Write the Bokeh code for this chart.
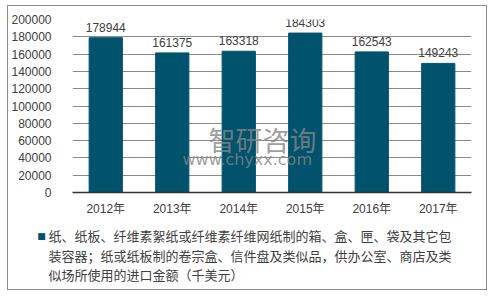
from bokeh.plotting import figure
from bokeh.layouts import column
from bokeh.models import ColumnDataSource, Label, LabelSet, Range1d, FixedTicker, NumeralTickFormatter
from bokeh.embed import file_html
from bokeh.resources import INLINE
from bokeh.core.properties import value

# Import value of paper/paperboard containers, by year (thousand USD)
years = ["2012年", "2013年", "2014年", "2015年", "2016年", "2017年"]
amounts = [178944, 161375, 163318, 184303, 162543, 149243]
y_ticks = [0, 20000, 40000, 60000, 80000, 100000, 120000, 140000, 160000, 180000, 200000]
legend_lines = [
    "纸、纸板、纤维素絮纸或纤维素纤维网纸制的箱、盒、匣、袋及其它包",
    "装容器；纸或纸板制的卷宗盒、信件盘及类似品，供办公室、商店及类",
    "似场所使用的进口金额（千美元）",
]

BAR = "#01536D"
TXT = "#404040"
FONT = "Liberation Sans, Noto Sans CJK SC"
CJK = "Noto Sans CJK SC"
W = 478

src = ColumnDataSource(dict(year=years, amount=amounts, label=[str(a) for a in amounts]))

# ---- bar chart ----
p = figure(
    x_range=years, y_range=Range1d(0, 200000),
    width=W, height=216,
    output_backend="svg", toolbar_location=None,
    min_border_left=61, min_border_right=15, min_border_top=13, min_border_bottom=30,
)
p.frame_align = False
p.outline_line_color = None
p.background_fill_color = "white"

p.vbar(x="year", top="amount", width=0.5, source=src, color=BAR)

p.add_layout(LabelSet(x="year", y="amount", text="label", source=src,
                      text_align="center", text_baseline="bottom", y_offset=6,
                      text_font=value(FONT), text_font_size="12px", text_color=TXT))

p.yaxis.ticker = FixedTicker(ticks=y_ticks)
p.yaxis.formatter = NumeralTickFormatter(format="0")
p.yaxis.axis_line_color = None
p.yaxis.major_tick_line_color = None
p.yaxis.minor_tick_line_color = None
p.yaxis.major_label_standoff = 15
p.yaxis.major_label_text_font = FONT
p.yaxis.major_label_text_font_size = "12px"
p.yaxis.major_label_text_color = TXT

p.xaxis.axis_line_color = "#333333"
p.xaxis.axis_line_width = 1.5
p.xaxis.major_tick_line_color = None
p.xaxis.minor_tick_line_color = None
p.xaxis.major_label_standoff = 3
p.xaxis.major_label_text_font = FONT
p.xaxis.major_label_text_font_size = "12px"
p.xaxis.major_label_text_color = TXT

p.xgrid.grid_line_color = None
p.ygrid.grid_line_color = "#8a8a8a"
p.ygrid.grid_line_width = 1

# watermark (screen offsets are measured from the frame's bottom-left corner)
p.add_layout(Label(x=136, y=53, x_units="screen", y_units="screen", text="智研咨询",
                   text_font=CJK, text_font_size="27px", text_color="#858585",
                   text_alpha=0.8, text_baseline="middle"))
p.add_layout(Label(x=110, y=33, x_units="screen", y_units="screen", text="www.chyxx.com",
                   text_font="DejaVu Sans", text_font_size="16px", text_color="#858585",
                   text_alpha=0.8, text_baseline="middle"))

# ---- legend strip below the chart ----
LH = 67
leg = figure(
    x_range=Range1d(0, W), y_range=Range1d(0, LH),
    width=W, height=LH,
    output_backend="svg", toolbar_location=None,
    x_axis_location=None, y_axis_location=None,
    min_border=0,
)
leg.frame_align = False
leg.outline_line_color = None
leg.grid.grid_line_color = None

leg.add_layout(Label(x=33, y=54, text="■",
                     text_font="DejaVu Sans", text_font_size="9px", text_color=BAR,
                     text_align="center", text_baseline="middle"))
for i, line in enumerate(legend_lines):
    leg.add_layout(Label(x=40, y=54 - 19.5 * i, text=line,
                         text_font=CJK, text_font_size="13px", text_color=TXT,
                         text_baseline="middle"))

layout = column(p, leg, styles={"border": "1px solid #8d8d8d",
                                "margin-left": "7px", "margin-top": "5px"})

open("out.html", "w").write(file_html(layout, INLINE))
